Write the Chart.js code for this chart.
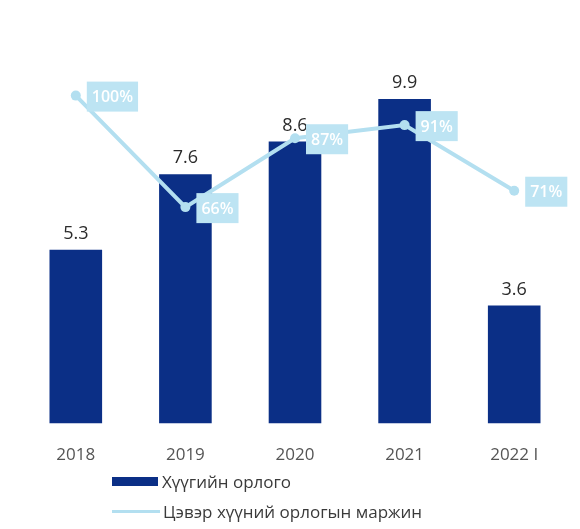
<!DOCTYPE html>
<html>
<head>
<meta charset="utf-8">
<script src="https://cdn.jsdelivr.net/npm/chart.js@4"></script>
<style>
  body { margin: 0; background: #fff; font-family: "Open Sans", sans-serif; }
  .wrap { position: relative; width: 580px; height: 529px; }
  canvas { position: absolute; left: 0; top: 0; }
  .legend { position: absolute; left: 112px; top: 466px; font-size: 17px; color: #3a3a3a; }
  .legend-row { display: flex; align-items: center; height: 30px; }
  .swatch-bar { width: 46px; height: 9px; background: #0b2f86; margin-right: 4px; }
  .swatch-line { width: 48px; height: 3px; background: #b3dff0; margin-right: 3px; }
</style>
</head>
<body>
<div class="wrap">
  <canvas id="chart" width="580" height="486"></canvas>
  <div class="legend">
    <div class="legend-row"><span class="swatch-bar"></span><span id="lg0"></span></div>
    <div class="legend-row"><span class="swatch-line"></span><span id="lg1"></span></div>
  </div>
</div>
<script>
const categories = ["2018", "2019", "2020", "2021", "2022 I"];
const interestIncome = [5.3, 7.6, 8.6, 9.9, 3.6];
const netMargin = [100, 66, 87, 91, 71];
const seriesNames = ["Хүүгийн орлого", "Цэвэр хүүний орлогын маржин"];

const barColor = "#0b2f86";
const lineColor = "#b3dff0";
const boxColor = "#bde4f3";

document.getElementById("lg0").textContent = seriesNames[0];
document.getElementById("lg1").textContent = seriesNames[1];

const labelPlugin = {
  id: "valueLabels",
  afterDatasetsDraw(chart) {
    const ctx = chart.ctx;
    ctx.save();
    // bar values
    const barMeta = chart.getDatasetMeta(1);
    ctx.font = "18px 'Open Sans', sans-serif";
    ctx.fillStyle = "#2b2b2b";
    ctx.textAlign = "center";
    ctx.textBaseline = "alphabetic";
    barMeta.data.forEach((bar, i) => {
      ctx.fillText(interestIncome[i].toFixed(1), bar.x, bar.y - 11);
    });
    // line labels in boxes
    const lineMeta = chart.getDatasetMeta(0);
    ctx.font = "600 16px 'Open Sans', sans-serif";
    ctx.textAlign = "left";
    ctx.textBaseline = "middle";
    lineMeta.data.forEach((pt, i) => {
      const text = netMargin[i] + "%";
      const w = ctx.measureText(text).width + 10;
      const x = pt.x + 11;
      const y = pt.y + 1;
      ctx.fillStyle = boxColor;
      ctx.fillRect(x, y - 15, w, 30);
      ctx.fillStyle = "#ffffff";
      ctx.fillText(text, x + 5, y + 1);
    });
    ctx.restore();
  }
};

new Chart(document.getElementById("chart"), {
  data: {
    labels: categories,
    datasets: [
      {
        type: "line",
        label: seriesNames[1],
        data: netMargin,
        yAxisID: "y2",
        borderColor: lineColor,
        backgroundColor: lineColor,
        borderWidth: 4,
        pointRadius: 5,
        pointBorderWidth: 0,
        tension: 0,
        order: 0
      },
      {
        type: "bar",
        label: seriesNames[0],
        data: interestIncome,
        yAxisID: "y",
        backgroundColor: barColor,
        barPercentage: 0.48,
        categoryPercentage: 1,
        order: 1
      }
    ]
  },
  options: {
    responsive: false,
    animation: false,
    layout: { padding: { left: 21, right: 11, top: 30, bottom: 8 } },
    plugins: { legend: { display: false }, tooltip: { enabled: false } },
    scales: {
      x: {
        grid: { display: false },
        border: { display: false },
        ticks: { color: "#555", font: { size: 17, family: "'Open Sans', sans-serif" }, padding: 13 }
      },
      y: { display: false, min: 0, max: 12 },
      y2: { display: false, min: 0, max: 120 }
    }
  },
  plugins: [labelPlugin]
});
</script>
</body>
</html>
